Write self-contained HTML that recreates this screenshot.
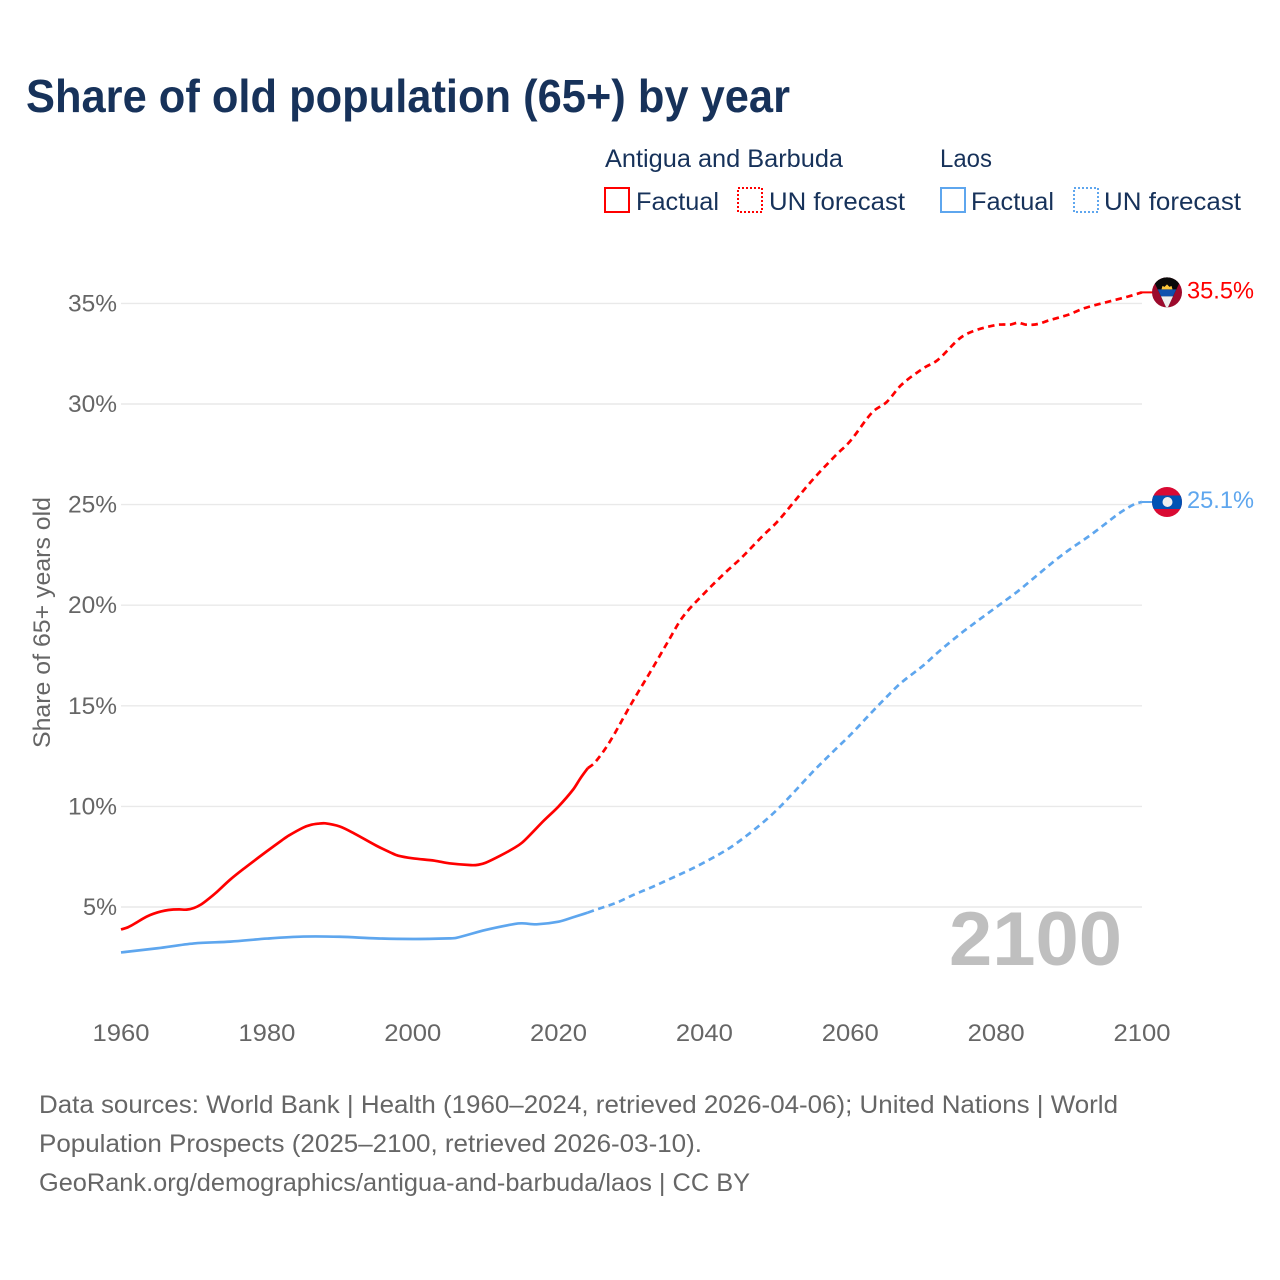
<!DOCTYPE html>
<html lang="en">
<head>
<meta charset="utf-8">
<title>Share of old population (65+) by year</title>
<style>
  html, body { margin: 0; padding: 0; background: #fff; }
  svg { display: block; font-family: "Liberation Sans", Arial, sans-serif; }
</style>
</head>
<body>
<svg id="chart" xmlns="http://www.w3.org/2000/svg" width="1280" height="1280" viewBox="0 0 1280 1280">
  <rect x="0" y="0" width="1280" height="1280" fill="#ffffff"/>
  <text x="26" y="112" font-size="46" font-weight="700" fill="#17325a" textLength="764" lengthAdjust="spacingAndGlyphs">Share of old population (65+) by year</text>

  <g font-size="25" fill="#17325a">
    <text x="605" y="167" textLength="238" lengthAdjust="spacingAndGlyphs">Antigua and Barbuda</text>
    <g>
      <rect x="605" y="188" width="24" height="24" fill="none" stroke="#ff0000" stroke-width="2" shape-rendering="crispEdges"/>
      <text x="636" y="210" textLength="83" lengthAdjust="spacingAndGlyphs">Factual</text>
    </g>
    <g>
      <rect x="738" y="188" width="24" height="24" fill="none" stroke="#ff0000" stroke-width="2" stroke-dasharray="2 2" shape-rendering="crispEdges"/>
      <text x="769" y="210" textLength="136" lengthAdjust="spacingAndGlyphs">UN forecast</text>
    </g>
    <text x="940" y="167" textLength="52" lengthAdjust="spacingAndGlyphs">Laos</text>
    <g>
      <rect x="941" y="188" width="24" height="24" fill="none" stroke="#5ea6ee" stroke-width="2" shape-rendering="crispEdges"/>
      <text x="971" y="210" textLength="83" lengthAdjust="spacingAndGlyphs">Factual</text>
    </g>
    <g>
      <rect x="1074" y="188" width="24" height="24" fill="none" stroke="#5ea6ee" stroke-width="2" stroke-dasharray="2 2" shape-rendering="crispEdges"/>
      <text x="1104" y="210" textLength="137" lengthAdjust="spacingAndGlyphs">UN forecast</text>
    </g>
  </g>

  <text transform="translate(50,622.5) rotate(-90)" text-anchor="middle" font-size="24" fill="#666666" textLength="251" lengthAdjust="spacingAndGlyphs">Share of 65+ years old</text>

  <g id="grid"></g>
  <g id="yticks"></g>
  <g id="xticks"></g>

  <text x="949" y="965" font-size="76" font-weight="700" fill="#bfbfbf" textLength="173" lengthAdjust="spacingAndGlyphs">2100</text>

  <g id="series"></g>

  <defs>
    <clipPath id="flag-clip"><circle cx="0" cy="0" r="15"/></clipPath>
  </defs>
  <g id="flag-antigua">
    <g clip-path="url(#flag-clip)">
      <rect x="-16" y="-16" width="32" height="32" fill="#9c0a2c"/>
      <polygon points="-15.5,-16 15.5,-16 0,17" fill="#0a0a0a"/>
      <polygon points="-9.3,-3 9.3,-3 6,4 -6,4" fill="#0f50ad"/>
      <polygon points="-6,4 6,4 0,17" fill="#eeeeee"/>
      <polygon points="-5.5,-3 -4.5,-6.5 -2.5,-5.5 0,-8 2.5,-5.5 4.5,-6.5 5.5,-3" fill="#fcc63a"/>
    </g>
  </g>
  <g id="flag-laos">
    <g clip-path="url(#flag-clip)">
      <rect x="-16" y="-16" width="32" height="32" fill="#d90a33"/>
      <rect x="-16" y="-6.5" width="32" height="13.5" fill="#0052b4"/>
      <circle cx="0.5" cy="0" r="5" fill="#eeeeee"/>
    </g>
  </g>
  <text id="label-antigua" x="1187" y="298" font-size="24" fill="#ff0000" textLength="67" lengthAdjust="spacingAndGlyphs">35.5%</text>
  <text id="label-laos" x="1187" y="508" font-size="24" fill="#5ea6ee" textLength="67" lengthAdjust="spacingAndGlyphs">25.1%</text>

  <g font-size="25" fill="#666666">
    <text x="39" y="1113" textLength="1079" lengthAdjust="spacingAndGlyphs">Data sources: World Bank | Health (1960–2024, retrieved 2026-04-06); United Nations | World</text>
    <text x="39" y="1152" textLength="663" lengthAdjust="spacingAndGlyphs">Population Prospects (2025–2100, retrieved 2026-03-10).</text>
    <text x="39" y="1191" textLength="711" lengthAdjust="spacingAndGlyphs">GeoRank.org/demographics/antigua-and-barbuda/laos | CC BY</text>
  </g>
</svg>

<script>
const xTicks = [1960, 1980, 2000, 2020, 2040, 2060, 2080, 2100];
const yTicks = [5, 10, 15, 20, 25, 30, 35];

const antiguaFactualYears = [1960,1961,1962,1963,1964,1965,1966,1967,1968,1969,1970,1971,1972,1973,1975,1977,1980,1982,1983,1985,1986,1987,1988,1990,1992,1995,1997,1998,2000,2003,2005,2008,2009,2010,2012,2014,2015,2016,2018,2020,2022,2023,2024];
const antiguaFactualValues = [3.88,4.0,4.2,4.42,4.6,4.73,4.82,4.87,4.88,4.87,4.95,5.13,5.4,5.7,6.37,6.95,7.77,8.3,8.55,8.95,9.08,9.14,9.16,9.0,8.65,8.05,7.7,7.55,7.42,7.3,7.17,7.08,7.1,7.2,7.55,7.95,8.2,8.55,9.3,10.0,10.84,11.4,11.9];

const antiguaForecastYears = [2024,2025,2027,2030,2033,2035,2037,2040,2043,2045,2048,2050,2053,2055,2058,2060,2063,2065,2067,2070,2072,2075,2077,2080,2081,2082,2083,2084,2085,2086,2087,2090,2092,2095,2098,2100];
const antiguaForecastValues = [11.9,12.19,13.2,15.12,16.94,18.19,19.4,20.6,21.67,22.33,23.45,24.15,25.45,26.3,27.45,28.16,29.58,30.1,30.95,31.77,32.19,33.26,33.64,33.93,33.95,33.95,34.04,33.95,33.94,34.0,34.13,34.45,34.75,35.05,35.33,35.55];

const laosFactualYears = [1960,1965,1970,1975,1980,1985,1990,1995,2000,2005,2006,2010,2014,2015,2017,2020,2022,2024];
const laosFactualValues = [2.74,2.95,3.19,3.28,3.43,3.53,3.52,3.44,3.41,3.44,3.47,3.86,4.16,4.19,4.14,4.27,4.49,4.72];

const laosForecastYears = [2024,2025,2028,2030,2033,2035,2038,2040,2043,2045,2048,2050,2052,2055,2058,2060,2063,2065,2067,2070,2072,2075,2077,2080,2083,2085,2088,2090,2093,2095,2097,2099,2100];
const laosForecastValues = [4.72,4.85,5.22,5.56,6.02,6.35,6.85,7.22,7.83,8.33,9.19,9.85,10.6,11.77,12.85,13.55,14.7,15.45,16.15,17.0,17.65,18.55,19.1,19.9,20.7,21.3,22.2,22.75,23.5,24.05,24.6,25.03,25.13];

const SVGNS = 'http://www.w3.org/2000/svg';
const red = '#ff0000';
const blue = '#5ea6ee';

function xScale(year) { return 121 + (year - 1960) * (1142 - 121) / 140; }
function yScale(value) { return 907 - (value - 5) * (907 - 303.4) / 30; }

function make(tag, attrs, parent) {
  const el = document.createElementNS(SVGNS, tag);
  for (const k in attrs) el.setAttribute(k, attrs[k]);
  parent.appendChild(el);
  return el;
}

function linePath(years, values) {
  const pts = years.map((y, i) => [xScale(y), yScale(values[i])]);
  let d = 'M' + pts[0][0].toFixed(2) + ' ' + pts[0][1].toFixed(2);
  for (let i = 0; i < pts.length - 1; i++) {
    const p0 = pts[Math.max(i - 1, 0)], p1 = pts[i], p2 = pts[i + 1], p3 = pts[Math.min(i + 2, pts.length - 1)];
    const h = (p2[0] - p1[0]);
    const m1 = (p2[1] - p0[1]) / ((p2[0] - p0[0]) || 1);
    const m2 = (p3[1] - p1[1]) / ((p3[0] - p1[0]) || 1);
    d += ' C' + (p1[0] + h / 3).toFixed(2) + ' ' + (p1[1] + m1 * h / 3).toFixed(2) + ' ' +
      (p2[0] - h / 3).toFixed(2) + ' ' + (p2[1] - m2 * h / 3).toFixed(2) + ' ' +
      p2[0].toFixed(2) + ' ' + p2[1].toFixed(2);
  }
  return d;
}

const gridGroup = document.getElementById('grid');
const yTickGroup = document.getElementById('yticks');
const xTickGroup = document.getElementById('xticks');
const seriesGroup = document.getElementById('series');

yTicks.forEach(function (t) {
  const line = make('line', { x1: 121, x2: 1142, y1: yScale(t), y2: yScale(t), stroke: '#e9e9e9', 'stroke-width': 1.4 }, gridGroup);
  
  
  const label = t + '%';
  const len = label.length === 3 ? 49 : 34;
  const text = make('text', { x: 117 - len, y: yScale(t) + 8, 'font-size': 24, fill: '#666666', textLength: len, lengthAdjust: 'spacingAndGlyphs' }, yTickGroup);
  text.textContent = label;
  
  
});

xTicks.forEach(function (t) {
  const text = make('text', { x: xScale(t) - 28.5, y: 1041, 'font-size': 24, fill: '#666666', textLength: 57, lengthAdjust: 'spacingAndGlyphs' }, xTickGroup);
  text.textContent = String(t);
  
  
});

const laosFactualLine = make('path', { d: linePath(laosFactualYears, laosFactualValues), fill: 'none', stroke: blue, 'stroke-width': 2.7, 'stroke-linejoin': 'round' }, seriesGroup);



const laosForecastLine = make('path', { d: linePath(laosForecastYears, laosForecastValues), fill: 'none', stroke: blue, 'stroke-width': 2.7, 'stroke-dasharray': '6.5 4.5' }, seriesGroup);



const antiguaFactualLine = make('path', { d: linePath(antiguaFactualYears, antiguaFactualValues), fill: 'none', stroke: red, 'stroke-width': 2.7, 'stroke-linejoin': 'round' }, seriesGroup);



const antiguaForecastLine = make('path', { d: linePath(antiguaForecastYears, antiguaForecastValues), fill: 'none', stroke: red, 'stroke-width': 2.7, 'stroke-dasharray': '6.5 4.5' }, seriesGroup);



const antiguaEnd = antiguaForecastValues[antiguaForecastValues.length - 1];
const laosEnd = laosForecastValues[laosForecastValues.length - 1];
const endX = xScale(2100) + 25;

const antiguaTail = make('line', { x1: xScale(2100), x2: endX, y1: yScale(antiguaEnd), y2: yScale(antiguaEnd), stroke: red, 'stroke-width': 2 }, seriesGroup);



const laosTail = make('line', { x1: xScale(2100), x2: endX, y1: yScale(laosEnd), y2: yScale(laosEnd), stroke: blue, 'stroke-width': 2 }, seriesGroup);



document.getElementById('flag-antigua').setAttribute('transform', 'translate(' + endX + ',' + yScale(antiguaEnd) + ')');
document.getElementById('flag-laos').setAttribute('transform', 'translate(' + endX + ',' + yScale(laosEnd) + ')');
document.getElementById('label-antigua').setAttribute('y', yScale(antiguaEnd) + 6);
document.getElementById('label-laos').setAttribute('y', yScale(laosEnd) + 6);
document.getElementById('label-antigua').textContent = antiguaEnd.toFixed(1) + '%';
document.getElementById('label-laos').textContent = laosEnd.toFixed(1) + '%';
</script>
</body>
</html>
